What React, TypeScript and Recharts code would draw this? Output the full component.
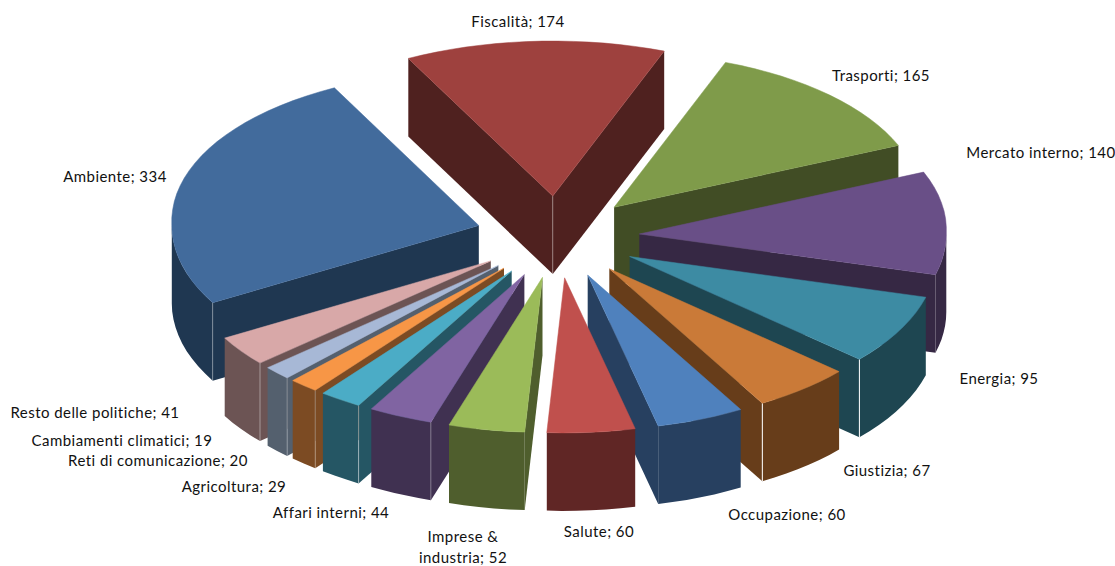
import React from 'react';
import { PieChart, Pie } from 'recharts';

const categories = [
  'Ambiente', 'Fiscalità', 'Trasporti', 'Mercato interno', 'Energia', 'Giustizia', 'Occupazione', 'Salute',
  'Imprese & industria', 'Affari interni', 'Agricoltura', 'Reti di comunicazione', 'Cambiamenti climatici',
  'Resto delle politiche',
];
const values = [334, 174, 165, 140, 95, 67, 60, 60, 52, 44, 29, 20, 19, 41];
const topColors = [
  '#426b9c', '#9e413e', '#7f9b4a', '#694f87', '#3d8ba3', '#ca7a38', '#4f81bd', '#c0504d',
  '#9bbb59', '#8064a2', '#4bacc6', '#f79646', '#a7b8d6', '#d8a8a8',
];
const wallColors = [
  '#1f3751', '#4f211f', '#414d25', '#362844', '#1e4651', '#673d1a', '#274060', '#602625',
  '#4f5e2d', '#403151', '#255664', '#7c4b23', '#54606e', '#6c5454',
];
// Opacity of the pale vertical seam on each slice's outer corner
const seamOpacity = [0.3, 0.35, 0, 0, 1, 1, 0, 0, 0, 0.3, 0.4, 0.3, 0.3, 0.4];

const labelCenters: Record<string, [number, number]> = {
  Ambiente: [115, 176],
  Fiscalità: [518, 21],
  Trasporti: [881, 75],
  'Mercato interno': [1041, 152],
  Energia: [999, 378],
  Giustizia: [887, 470],
  Occupazione: [787, 514],
  Salute: [599, 531],
  'Imprese & industria': [463, 536],
  'Affari interni': [331, 512],
  Agricoltura: [234, 486],
  'Reti di comunicazione': [158, 460],
  'Cambiamenti climatici': [122, 440],
  'Resto delle politiche': [95, 412],
};

const WIDTH = 1115;
const HEIGHT = 566;
const CX = 557.5;
const CY = 237;
const RADIUS = 307;
const EXPLODE = 82;
const TILT = 0.505;
const DEPTH = 78;
const BACK_WIDEN = 0.025;
const RAD = Math.PI / 180;

const rows = categories.map((name, i) => ({ name, value: values[i], fill: topColors[i], wall: wallColors[i], seam: seamOpacity[i] }));
const total = values.reduce((a, b) => a + b, 0);

// Slices from Ambiente clockwise to Salute, then the left fan drawn back to front
const rightRows = rows.slice(0, 8);
const leftRows = rows.slice(8).reverse();
const START = -150.1;
const sweep = (list: typeof rows) => (list.reduce((a, r) => a + r.value, 0) / total) * 360;

const pts = (list: number[][]) => list.map((p) => `${p[0].toFixed(1)},${p[1].toFixed(1)}`).join(' ');

// Extruded, tilted pie slice built from the sector angles the Pie hands over
const Slice3D = (props: any) => {
  const { startAngle, endAngle, cx, cy, outerRadius, fill } = props;
  const row = props.payload ?? props;
  let a1 = 90 - Math.max(startAngle, endAngle);
  let a2 = 90 - Math.min(startAngle, endAngle);
  while (a1 >= 360) {
    a1 -= 360;
    a2 -= 360;
  }
  while (a1 < 0) {
    a1 += 360;
    a2 += 360;
  }
  const mid = ((a1 + a2) / 2) * RAD;
  const ax = cx + EXPLODE * Math.sin(mid);
  const ay = cy - EXPLODE * 0.5 * Math.cos(mid);
  const rim = (deg: number) => {
    const c = Math.cos(deg * RAD);
    const widen = 1 + BACK_WIDEN * Math.max(0, c);
    return [ax + outerRadius * widen * Math.sin(deg * RAD), ay - outerRadius * TILT * c];
  };
  const arc = (from: number, to: number) => {
    const out: number[][] = [];
    const n = Math.max(2, Math.ceil((to - from) / 3));
    for (let i = 0; i <= n; i++) out.push(rim(from + ((to - from) * i) / n));
    return out;
  };
  const drop = (list: number[][]) => list.map((p) => [p[0], p[1] + DEPTH]);

  const p1 = rim(a1);
  const p2 = rim(a2);
  const apex = [ax, ay];
  const lo = Math.max(a1, 90);
  const hi = Math.min(a2, 270);
  const outer = hi > lo ? arc(lo, hi) : null;
  const showStart = Math.sin(a1 * RAD) < 0;
  const showEnd = Math.sin(a2 * RAD) > 0;
  const corner = showStart ? p1 : p2;
  const wall = row.wall;
  return (
    <g>
      {outer && <polygon points={pts([...outer, ...drop(outer).reverse()])} fill={wall} />}
      {showStart && <polygon points={pts([apex, p1, [p1[0], p1[1] + DEPTH], [ax, ay + DEPTH]])} fill={wall} />}
      {showEnd && <polygon points={pts([apex, p2, [p2[0], p2[1] + DEPTH], [ax, ay + DEPTH]])} fill={wall} />}
      {showStart && showEnd && (
        <line x1={ax} y1={ay} x2={ax} y2={ay + DEPTH} stroke="#fff" strokeOpacity={row.seam} />
      )}
      {!(showStart && showEnd) && row.seam > 0 && (
        <line x1={corner[0]} y1={corner[1]} x2={corner[0]} y2={corner[1] + DEPTH} stroke="#fff" strokeOpacity={row.seam} />
      )}
      <polygon points={pts([apex, ...arc(a1, a2)])} fill={fill} stroke={fill} strokeWidth={0.5} />
    </g>
  );
};

const renderLabel = (props: any) => {
  const name: string = props.name;
  const [x, y] = labelCenters[name];
  const style = { fontFamily: 'Lato', fontSize: 15, fill: '#111', letterSpacing: 0.45 };
  if (name === 'Imprese & industria') {
    return (
      <text x={x} y={y} textAnchor="middle" dominantBaseline="central" style={style}>
        <tspan x={x}>Imprese &amp;</tspan>
        <tspan x={x} dy={21}>{`industria; ${props.value}`}</tspan>
      </text>
    );
  }
  return (
    <text x={x} y={y} textAnchor="middle" dominantBaseline="central" style={style}>
      {`${name}; ${props.value}`}
    </text>
  );
};

export default function App() {
  return (
    <div style={{ position: 'absolute', left: 0, top: 0, width: WIDTH, height: HEIGHT, background: '#fff' }}>
      <PieChart width={WIDTH} height={HEIGHT} margin={{ top: 0, right: 0, bottom: 0, left: 0 }}>
        <Pie
          data={rightRows}
          dataKey="value"
          nameKey="name"
          cx={CX}
          cy={CY}
          outerRadius={RADIUS}
          startAngle={START}
          endAngle={START - sweep(rightRows)}
          stroke="none"
          shape={Slice3D}
          inactiveShape={Slice3D}
          label={renderLabel}
          labelLine={false}
          isAnimationActive={false}
        />
        <Pie
          data={leftRows}
          dataKey="value"
          nameKey="name"
          cx={CX}
          cy={CY}
          outerRadius={RADIUS}
          startAngle={START}
          endAngle={START + sweep(leftRows)}
          stroke="none"
          shape={Slice3D}
          inactiveShape={Slice3D}
          label={renderLabel}
          labelLine={false}
          isAnimationActive={false}
        />
      </PieChart>
    </div>
  );
}
